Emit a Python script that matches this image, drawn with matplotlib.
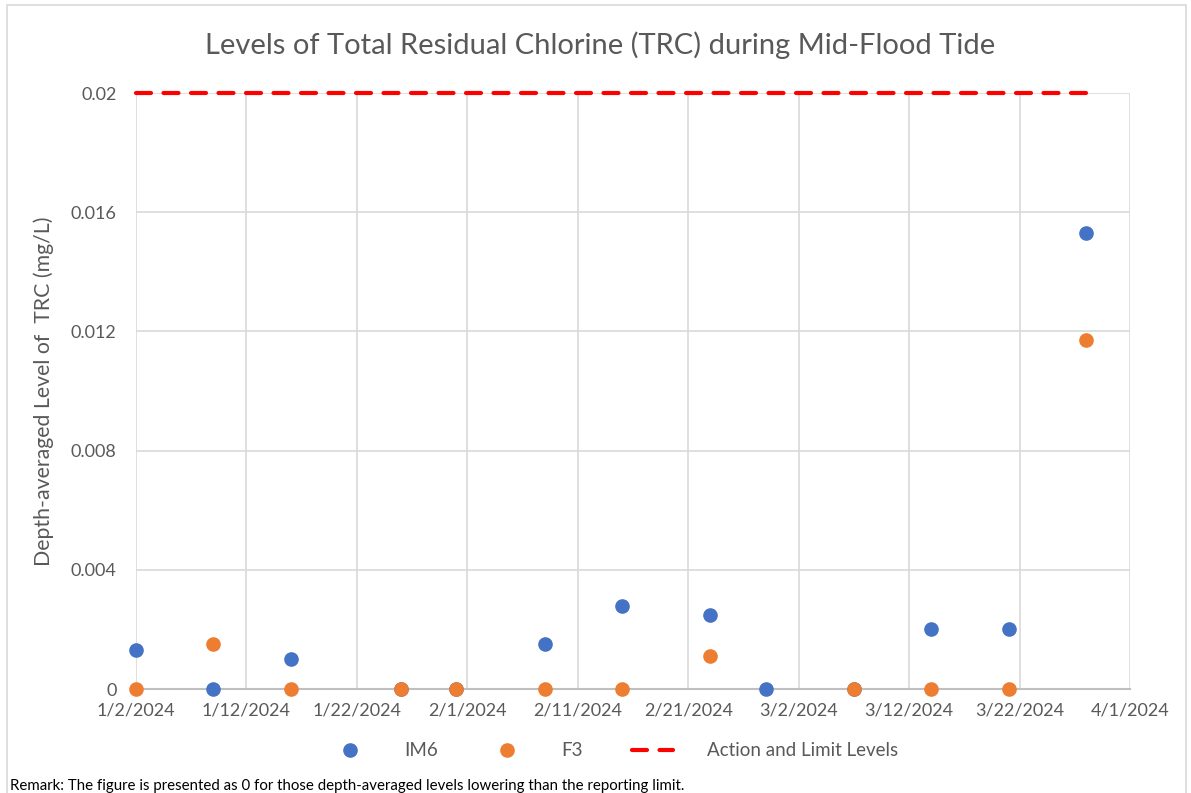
import matplotlib.pyplot as plt
import pandas as pd
from matplotlib.patches import Rectangle

plt.rcParams["font.family"] = ["Lato", "DejaVu Sans"]

# Sampling dates and depth-averaged TRC (mg/L)
dates = ["2024-01-02", "2024-01-09", "2024-01-16", "2024-01-26", "2024-01-31",
         "2024-02-08", "2024-02-15", "2024-02-23", "2024-02-28", "2024-03-07",
         "2024-03-14", "2024-03-21", "2024-03-28"]
im6 = [0.0013, 0.0, 0.001, 0.0, 0.0, 0.0015, 0.0028, 0.0025, 0.0, 0.0, 0.002, 0.002, 0.0153]
f3 = [0.0, 0.0015, 0.0, 0.0, 0.0, 0.0, 0.0, 0.0011, None, 0.0, 0.0, 0.0, 0.0117]
limit = [0.02] * len(dates)

dates = pd.to_datetime(dates)
grey = "#595959"

fig = plt.figure(figsize=(11.91, 7.93), dpi=100)
ax = fig.add_axes([0.1142, 0.1311, 0.8346, 0.7516])

ax.plot(dates, limit, color="red", linestyle=(0, (3.6, 3.0)), linewidth=3,
        dash_capstyle="round", label="Action and Limit Levels", zorder=3, clip_on=False)
ax.plot(dates, im6, "o", color="#4472C4", markersize=9.5, label="IM6", zorder=4, clip_on=False)
ax.plot(dates, [v if v is not None else float("nan") for v in f3], "o",
        color="#ED7D31", markersize=9.5, label="F3", zorder=5, clip_on=False)

ax.set_xlim(pd.Timestamp("2024-01-02"), pd.Timestamp("2024-04-01"))
ax.set_ylim(0, 0.02)
ticks = pd.date_range("2024-01-02", "2024-04-01", freq="10D")
ax.set_xticks(ticks)
ax.set_xticklabels([f"{d.month}/{d.day}/{d.year}" for d in ticks])
ax.set_yticks([0, 0.004, 0.008, 0.012, 0.016, 0.02])
ax.set_yticklabels(["0", "0.004", "0.008", "0.012", "0.016", "0.02"])
ax.tick_params(length=0, labelsize=13, colors=grey, pad=10)
ax.tick_params(axis="y", pad=14)

ax.grid(True, color="#D9D9D9", linewidth=1.2)
ax.set_axisbelow(True)
for s in ["top", "left", "right"]:
    ax.spines[s].set_visible(False)
ax.spines["bottom"].set_color("#BFBFBF")
ax.spines["bottom"].set_linewidth(1.5)

fig.text(600 / 1191, 1 - 45 / 793, "Levels of Total Residual Chlorine (TRC) during Mid-Flood Tide",
         fontsize=21, color=grey, ha="center", va="center")
ax.set_ylabel("Depth-averaged Level of  TRC (mg/L)", fontsize=15.3, color=grey, labelpad=12)

handles, labels = ax.get_legend_handles_labels()
order = [1, 2, 0]
fig.legend([handles[i] for i in order], [labels[i] for i in order],
           loc="center", bbox_to_anchor=(0.515, 1 - 751 / 793), ncol=3, frameon=False,
           fontsize=13.5, labelcolor=grey, handlelength=2.2, handletextpad=1.8,
           columnspacing=2.6, bbox_transform=fig.transFigure)

fig.text(0.008, 0.0, "Remark: The figure is presented as 0 for those depth-averaged levels lowering than the reporting limit.",
         fontsize=10.8, color="black", va="bottom")

fig.patches.append(Rectangle((0.006, -0.02), 0.99, 1.014, transform=fig.transFigure,
                             fill=False, edgecolor="#D9D9D9", linewidth=1.2))

fig.savefig("out.png", dpi=100)
